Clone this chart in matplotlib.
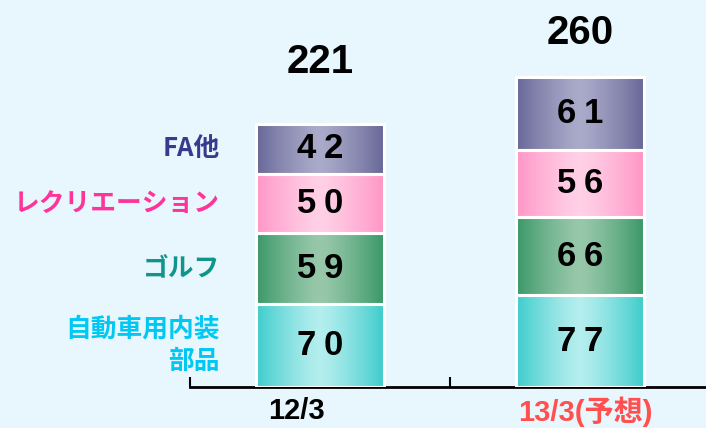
import numpy as np
import matplotlib
matplotlib.use("Agg")
import matplotlib.pyplot as plt
import matplotlib.transforms as mtransforms
from matplotlib.colors import LinearSegmentedColormap

plt.rcParams['font.family'] = ['Noto Sans CJK JP', 'DejaVu Sans']

categories = ["12/3", "13/3(予想)"]
segments = ["自動車用内装\n部品", "ゴルフ", "レクリエーション", "FA他"]
values = {
    "自動車用内装\n部品": [70, 77],
    "ゴルフ": [59, 66],
    "レクリエーション": [50, 56],
    "FA他": [42, 61],
}
totals = [221, 260]

edge_colors = ["#3ECCCC", "#3A9868", "#FF96C6", "#686898"]
center_colors = ["#B4EEEE", "#98C8AA", "#FFD0E6", "#AAAACA"]
label_colors = ["#00C8F5", "#10958A", "#FF3399", "#3A3A8C"]
tick_colors = ["#000000", "#FF4F4F"]

LAT = ['Liberation Sans', 'Noto Sans CJK JP']

bg = "#E8F6FE"
fig = plt.figure(figsize=(7.06, 4.28), dpi=100, facecolor=bg)
ax = fig.add_axes([190/706, 41/428, 520/706, 387/428])
ax.set_facecolor(bg)

bar_w = 0.49
ax.set_xlim(-0.5, 1.5)
ax.set_ylim(0, 325)

x = np.arange(len(categories))
bottoms = np.zeros(len(categories))
grad = np.abs(np.linspace(-1, 1, 256)) ** 1.3
for i, seg in enumerate(segments):
    vals = np.array(values[seg], dtype=float)
    cmap = LinearSegmentedColormap.from_list(seg, [center_colors[i], edge_colors[i]])
    for j in range(len(categories)):
        x0, x1 = x[j] - bar_w/2, x[j] + bar_w/2
        y0, y1 = bottoms[j], bottoms[j] + vals[j]
        ax.imshow(grad[np.newaxis, :], cmap=cmap, aspect='auto',
                  extent=[x0, x1, y0, y1], zorder=2, interpolation='bicubic')
        ax.bar(x[j], vals[j], bottom=bottoms[j], width=bar_w, facecolor='none',
               edgecolor='white', linewidth=2.2, zorder=3)
        digits = f"{int(vals[j])}"
        for k, d in enumerate(digits):
            dx = (k - (len(digits) - 1) / 2) * 0.103
            ax.text(x[j] + dx, y0 + vals[j]/2, d, ha='center', va='center',
                    fontsize=25, fontweight='bold', color='black', zorder=4,
                    family=LAT)
    ax.text(-0.385, bottoms[0] + vals[0]/2, seg, ha='right', va='center',
            fontsize=18.5, fontweight='bold', color=label_colors[i],
            linespacing=1.25, zorder=4)
    bottoms += vals

total_offsets = [52, 37]
for j in range(len(categories)):
    ax.text(x[j], totals[j] + total_offsets[j], f"{totals[j]}", ha='center', va='center',
            fontsize=29, fontweight='bold', color='black', family=LAT)

ax.set_xlim(-0.5, 1.5)
ax.set_ylim(0, 325)
for s in ['left', 'right', 'top']:
    ax.spines[s].set_visible(False)
ax.spines['bottom'].set_linewidth(2)
ax.set_yticks([])
ax.set_xticks([-0.5, 0.5, 1.5])
ax.set_xticklabels([])
ax.tick_params(axis='x', direction='in', length=7, width=1.5)
ax.set_xticks(x, minor=True)
ax.set_xticklabels(categories, minor=True)
ax.tick_params(axis='x', which='minor', length=0, pad=7, labelsize=21)
label_shift = [-24, 5]
for lbl, c, sh in zip(ax.get_xticklabels(minor=True), tick_colors, label_shift):
    lbl.set_color(c)
    lbl.set_fontweight('bold')
    lbl.set_family(LAT)
    lbl.set_transform(lbl.get_transform() +
                      mtransforms.ScaledTranslation(sh/100, 0, fig.dpi_scale_trans))

fig.savefig("out.png", dpi=100, facecolor=bg)
